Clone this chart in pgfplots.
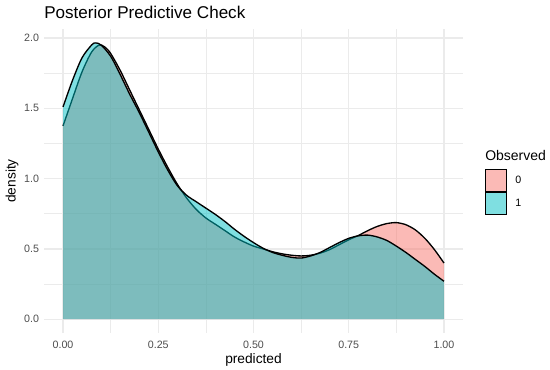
\documentclass[border=0pt]{standalone}
\usepackage{fontspec}
\setmainfont{Liberation Sans}
\usepackage{pgfplots}
\pgfplotsset{compat=1.18}
\usepackage{pgfplotstable}

\definecolor{ggred}{HTML}{F8766D}
\definecolor{ggcyan}{HTML}{00BFC4}
\definecolor{ggredL}{HTML}{FBBAB6}
\definecolor{ggcyanL}{HTML}{7FDFE1}
\definecolor{grid92}{HTML}{EBEBEB}
\definecolor{grey30}{HTML}{4D4D4D}

% Observed = 0
\pgfplotstableread{
x y
0.000 1.375
0.025 1.570
0.050 1.760
0.075 1.900
0.095 1.950
0.110 1.935
0.125 1.890
0.150 1.770
0.175 1.630
0.200 1.490
0.225 1.350
0.250 1.210
0.275 1.080
0.300 0.960
0.325 0.860
0.350 0.780
0.375 0.720
0.400 0.675
0.425 0.630
0.450 0.585
0.475 0.550
0.500 0.520
0.525 0.500
0.550 0.480
0.575 0.465
0.600 0.455
0.625 0.450
0.650 0.455
0.675 0.470
0.700 0.495
0.725 0.530
0.750 0.565
0.775 0.595
0.800 0.630
0.825 0.660
0.850 0.680
0.875 0.687
0.900 0.672
0.925 0.635
0.950 0.575
0.975 0.495
1.000 0.400
}\redtab

% Observed = 1
\pgfplotstableread{
x y
0.000 1.510
0.025 1.700
0.050 1.860
0.075 1.950
0.085 1.965
0.100 1.950
0.125 1.870
0.150 1.740
0.175 1.600
0.200 1.470
0.225 1.330
0.250 1.190
0.275 1.060
0.300 0.950
0.325 0.880
0.350 0.835
0.375 0.790
0.400 0.745
0.425 0.695
0.450 0.640
0.475 0.590
0.500 0.545
0.525 0.505
0.550 0.475
0.575 0.455
0.600 0.440
0.625 0.435
0.650 0.450
0.675 0.475
0.700 0.510
0.725 0.545
0.750 0.575
0.775 0.593
0.800 0.598
0.825 0.585
0.850 0.560
0.875 0.520
0.900 0.475
0.925 0.425
0.950 0.375
0.975 0.320
1.000 0.270
}\cyantab

\begin{document}
\begin{tikzpicture}
\useasboundingbox (-33pt,-27.75pt) rectangle (379.5pt,249.75pt);
\begin{axis}[
  at={(0,0)}, anchor=south west,
  scale only axis, width=314.25pt, height=228pt,
  clip=false,
  xmin=-0.05, xmax=1.05, ymin=-0.098, ymax=2.064,
  xtick={0,0.25,0.5,0.75,1},
  xticklabels={0.00,0.25,0.50,0.75,1.00},
  ytick={0,0.5,1,1.5,2},
  yticklabels={0.0,0.5,1.0,1.5,2.0},
  minor xtick={0.125,0.375,0.625,0.875},
  minor ytick={0.25,0.75,1.25,1.75},
  grid=both,
  major grid style={grid92, line width=1.04pt},
  minor grid style={grid92, line width=0.52pt},
  axis line style={draw=none},
  major tick length=0pt, minor tick length=0pt,
  tick style={draw=none},
  /pgf/number format/assume math mode=true,
  ticklabel style={font=\fontsize{8}{9.6}\selectfont, text=grey30},
  xticklabel style={anchor=north, inner sep=0pt, yshift=-6pt},
  yticklabel style={anchor=east, inner sep=0pt, xshift=-3.5pt},
  xlabel={predicted},
  ylabel={density},
  label style={font=\fontsize{10.3}{12}\selectfont},
  xlabel style={at={(axis description cs:0.5,-0.0988)}, anchor=base, inner sep=0pt},
  ylabel style={at={(axis description cs:-0.0764,0.5)}, anchor=center, inner sep=0pt},
  title={Posterior Predictive Check},
  every axis title/.style={at={(axis description cs:0,1.0339)}, anchor=base west, inner sep=0pt, font=\fontsize{12.8}{15}\selectfont},
  legend style={at={(axis description cs:1.0525,0.539)}, anchor=north west,
    draw=none, fill=none, inner sep=0pt, outer sep=0pt,
    row sep=0pt, column sep=6.5pt,
    nodes={inner sep=0pt},
    font=\fontsize{8}{9.6}\selectfont},
  legend cell align=left,
]
\addplot[draw=none, fill=ggred, fill opacity=0.5, smooth, forget plot] table[x=x,y=y]{\redtab} \closedcycle;
\addplot[black, line width=1pt, smooth, forget plot] table[x=x,y=y]{\redtab};
\addplot[draw=none, fill=ggcyan, fill opacity=0.5, smooth, forget plot] table[x=x,y=y]{\cyantab} \closedcycle;
\addplot[black, line width=1pt, smooth, forget plot] table[x=x,y=y]{\cyantab};

\addlegendimage{legend image code/.code={\draw[fill=ggredL,draw=black,line width=0.6pt] (0pt,-8.25pt) rectangle (15.75pt,8.25pt);}}
\addlegendentry{0}
\addlegendimage{legend image code/.code={\draw[fill=ggcyanL,draw=black,line width=0.6pt] (0pt,-8.25pt) rectangle (15.75pt,8.25pt);}}
\addlegendentry{1}

\node[anchor=base west, inner sep=0pt, font=\fontsize{10.5}{12}\selectfont] at (axis description cs:1.0525,0.5673) {Observed};
\end{axis}
\end{tikzpicture}
\end{document}
